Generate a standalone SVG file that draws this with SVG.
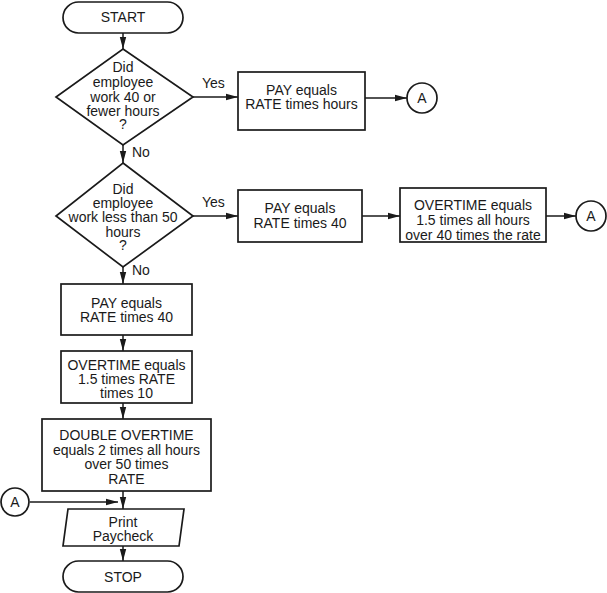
<svg xmlns="http://www.w3.org/2000/svg" width="607" height="593" viewBox="0 0 607 593">
<style>
.s{fill:#fff;stroke:#1a1a1a;stroke-width:1.7}
.t{font-family:"Liberation Sans",Arial,sans-serif;font-size:14px;fill:#1a1a1a;text-anchor:middle}
.l{font-family:"Liberation Sans",Arial,sans-serif;font-size:14px;fill:#1a1a1a}
.c{fill:none;stroke:#1a1a1a;stroke-width:1.5}
</style>
<defs>
<marker id="ar" viewBox="0 0 12 8" refX="12" refY="4" markerWidth="12" markerHeight="8" markerUnits="userSpaceOnUse" orient="auto">
<path d="M0,0.8 L12,4 L0,7.2 Z" fill="#1a1a1a"/>
</marker>
</defs>
<rect width="607" height="593" fill="#fff"/>
<g id="connectors">
<line class="c" x1="123" y1="33" x2="123" y2="49" marker-end="url(#ar)"/>
<line class="c" x1="193" y1="97" x2="238" y2="97" marker-end="url(#ar)"/>
<line class="c" x1="365" y1="98" x2="407" y2="98" marker-end="url(#ar)"/>
<line class="c" x1="123" y1="145" x2="123" y2="163" marker-end="url(#ar)"/>
<line class="c" x1="193" y1="216" x2="238" y2="216" marker-end="url(#ar)"/>
<line class="c" x1="362" y1="216" x2="400" y2="216" marker-end="url(#ar)"/>
<line class="c" x1="546" y1="216" x2="576" y2="216" marker-end="url(#ar)"/>
<line class="c" x1="123" y1="267" x2="123" y2="284" marker-end="url(#ar)"/>
<line class="c" x1="123" y1="335" x2="123" y2="351" marker-end="url(#ar)"/>
<line class="c" x1="123" y1="403" x2="123" y2="419" marker-end="url(#ar)"/>
<line class="c" x1="123" y1="491" x2="123" y2="509" marker-end="url(#ar)"/>
<line class="c" x1="30" y1="502" x2="118" y2="502" marker-end="url(#ar)"/>
<line class="c" x1="123" y1="546" x2="123" y2="561" marker-end="url(#ar)"/>
<text class="l" x="202" y="88">Yes</text>
<text class="l" x="202" y="207">Yes</text>
<text class="l" x="132" y="157">No</text>
<text class="l" x="132" y="275">No</text>
</g>
<g id="start">
<rect class="s" x="63" y="2" width="120" height="31" rx="15.5"/>
<text class="t" x="123" y="22">START</text>
</g>
<g id="decision1">
<polygon class="s" points="123,49 193,97 123,145 56,97"/>
<text class="t" x="123" y="72">Did</text>
<text class="t" x="123" y="87">employee</text>
<text class="t" x="123" y="102">work 40 or</text>
<text class="t" x="123" y="116">fewer hours</text>
<text class="t" x="123" y="129">?</text>
</g>
<g id="pay-hours">
<rect class="s" x="238" y="72" width="127" height="58"/>
<text class="t" x="301.5" y="95">PAY equals</text>
<text class="t" x="301.5" y="109">RATE times hours</text>
</g>
<g id="connector-a1">
<circle class="s" cx="422" cy="98" r="15"/>
<text class="t" x="422" y="103">A</text>
</g>
<g id="decision2">
<polygon class="s" points="123,163 193,216 123,267 56,216"/>
<text class="t" x="123" y="194">Did</text>
<text class="t" x="123" y="208">employee</text>
<text class="t" x="123" y="222">work less than 50</text>
<text class="t" x="123" y="237">hours</text>
<text class="t" x="123" y="250">?</text>
</g>
<g id="pay-40a">
<rect class="s" x="238" y="190" width="124" height="52"/>
<text class="t" x="300" y="213">PAY equals</text>
<text class="t" x="300" y="228">RATE times 40</text>
</g>
<g id="overtime-a">
<rect class="s" x="400" y="188" width="146" height="54"/>
<text class="t" x="473" y="210">OVERTIME equals</text>
<text class="t" x="473" y="225">1.5 times all hours</text>
<text class="t" x="473" y="240">over 40 times the rate</text>
</g>
<g id="connector-a2">
<circle class="s" cx="591" cy="216" r="15"/>
<text class="t" x="591" y="221">A</text>
</g>
<g id="pay-40b">
<rect class="s" x="61" y="284" width="131" height="51"/>
<text class="t" x="126.5" y="308">PAY equals</text>
<text class="t" x="126.5" y="322">RATE times 40</text>
</g>
<g id="overtime-b">
<rect class="s" x="61" y="351" width="131" height="52"/>
<text class="t" x="126.5" y="370">OVERTIME equals</text>
<text class="t" x="126.5" y="384">1.5 times RATE</text>
<text class="t" x="126.5" y="398">times 10</text>
</g>
<g id="double-overtime">
<rect class="s" x="42" y="419" width="169" height="72"/>
<text class="t" x="126.5" y="440">DOUBLE OVERTIME</text>
<text class="t" x="126.5" y="455">equals 2 times all hours</text>
<text class="t" x="126.5" y="469">over 50 times</text>
<text class="t" x="126.5" y="484">RATE</text>
</g>
<g id="connector-a3">
<circle class="s" cx="15" cy="502" r="14"/>
<text class="t" x="15" y="507">A</text>
</g>
<g id="print">
<polygon class="s" points="68,509 184,509 179,546 63,546"/>
<text class="t" x="123" y="527">Print</text>
<text class="t" x="123" y="541">Paycheck</text>
</g>
<g id="stop">
<rect class="s" x="63" y="561" width="120" height="31" rx="15.5"/>
<text class="t" x="123" y="582">STOP</text>
</g>
</svg>
